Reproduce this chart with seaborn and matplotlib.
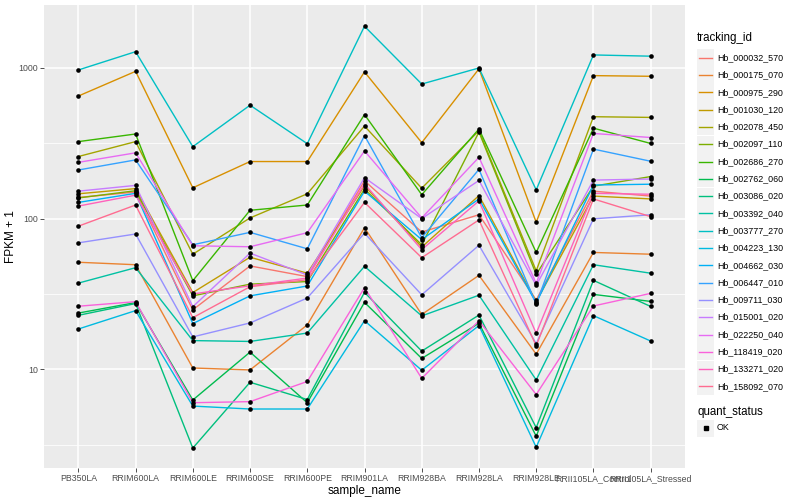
import matplotlib
matplotlib.use('Agg')
import matplotlib.pyplot as plt
from matplotlib.lines import Line2D
from matplotlib.patches import Rectangle
import seaborn as sns
import pandas as pd
import numpy as np

# 샘플 이름 (x축)
samples = ['PB350LA', 'RRIM600LA', 'RRIM600LE', 'RRIM600SE', 'RRIM600PE',
           'RRIM901LA', 'RRIM928BA', 'RRIM928LA', 'RRIM928LE',
           'RRII105LA_Control', 'RRII105LA_Stressed']

# 유전자별 FPKM + 1 값
hb_000032_570 = [138, 150, 24.8, 48.5, 41.2, 178, 81.4, 106, 28.8, 152, 141]
hb_000175_070 = [51.3, 49.4, 10.2, 9.9, 19.7, 87, 23.1, 42, 12.6, 59.6, 58]
hb_000975_290 = [650, 948, 160, 239, 239, 940, 319, 985, 94.5, 888, 879]
hb_001030_120 = [146, 158, 32.3, 55.4, 43.4, 165, 64.7, 142, 28.1, 141, 135]
hb_002078_450 = [258, 324, 58, 101, 146, 411, 159, 383, 45, 474, 469]
hb_002097_110 = [137, 153, 30.7, 36.7, 38.2, 157, 67, 375, 42.7, 164, 190]
hb_002686_270 = [324, 364, 38.7, 113.5, 123, 490, 144, 393, 59.6, 398, 315]
hb_002762_060 = [23.6, 27.7, 6.25, 13.0, 6.0, 27.8, 11.8, 20.2, 3.6, 31.4, 28.2]
hb_003086_020 = [22.8, 27.3, 3.0, 8.2, 6.3, 32.4, 13.2, 22.9, 4.1, 38.9, 26.1]
hb_003392_040 = [37.3, 47.2, 15.5, 15.3, 17.4, 48.2, 22.6, 31, 8.5, 49.4, 43.4]
hb_003777_270 = [968, 1280, 300, 565, 314, 1888, 781, 998, 155, 1218, 1195]
hb_004223_130 = [18.5, 24.5, 5.7, 5.45, 5.45, 21, 9.85, 19.5, 3.04, 22.7, 15.4]
hb_004662_030 = [128, 147, 20.1, 30.7, 35.7, 152, 72.5, 135, 27.5, 167, 169]
hb_006447_010 = [210, 245, 67, 81, 63, 355, 74.7, 212, 27.1, 289, 240]
hb_009711_030 = [69, 79, 16.4, 20.3, 29.7, 80, 31.2, 66.5, 14.8, 99.6, 106]
hb_015001_020 = [152, 166, 26, 59, 42.2, 187, 100, 179, 36, 180, 183]
hb_022250_040 = [236, 273, 66, 65, 80.6, 281, 101, 255, 37.2, 367, 345]
hb_118419_020 = [26.2, 28.1, 6.0, 6.1, 8.3, 34.8, 8.7, 21, 6.8, 26.3, 31.9]
hb_133271_020 = [121, 143, 31.6, 35.8, 40.3, 170, 62.2, 131, 17.3, 147, 145]
hb_158092_070 = [89, 123, 22, 35.3, 39.3, 128, 55, 98, 14.3, 135, 103]

genes = {
    'Hb_000032_570': hb_000032_570, 'Hb_000175_070': hb_000175_070,
    'Hb_000975_290': hb_000975_290, 'Hb_001030_120': hb_001030_120,
    'Hb_002078_450': hb_002078_450, 'Hb_002097_110': hb_002097_110,
    'Hb_002686_270': hb_002686_270, 'Hb_002762_060': hb_002762_060,
    'Hb_003086_020': hb_003086_020, 'Hb_003392_040': hb_003392_040,
    'Hb_003777_270': hb_003777_270, 'Hb_004223_130': hb_004223_130,
    'Hb_004662_030': hb_004662_030, 'Hb_006447_010': hb_006447_010,
    'Hb_009711_030': hb_009711_030, 'Hb_015001_020': hb_015001_020,
    'Hb_022250_040': hb_022250_040, 'Hb_118419_020': hb_118419_020,
    'Hb_133271_020': hb_133271_020, 'Hb_158092_070': hb_158092_070,
}

# ggplot 기본 hue 팔레트 (20개)
colors = ['#F8766D', '#EA8331', '#D89000', '#C09B00', '#A3A500', '#7CAE00',
          '#39B600', '#00BB4E', '#00BF7D', '#00C1A3', '#00BFC4', '#00BAE0',
          '#00B0F6', '#35A2FF', '#9590FF', '#C77CFF', '#E76BF3', '#FA62DB',
          '#FF62BC', '#FF6C91']

rows = []
for g, vals in genes.items():
    for s, v in zip(samples, vals):
        rows.append({'tracking_id': g, 'sample_name': s, 'fpkm': v})
df = pd.DataFrame(rows)
df['x'] = df['sample_name'].map({s: i for i, s in enumerate(samples)})

plt.rcParams['font.family'] = ['Liberation Sans', 'DejaVu Sans']

fig = plt.figure(figsize=(8, 5), dpi=100)
ax = fig.add_axes([44 / 800, 1 - 468 / 500, (685 - 44) / 800, (468 - 5) / 500])
ax.set_facecolor('#EBEBEB')

palette = dict(zip(genes.keys(), colors))
sns.lineplot(data=df, x='x', y='fpkm', hue='tracking_id', palette=palette,
             sort=False, linewidth=1.0, legend=False, ax=ax, zorder=3)
sns.scatterplot(data=df, x='x', y='fpkm', color='black', s=11,
                marker='o', linewidth=0, legend=False, ax=ax, zorder=4)

ax.set_yscale('log')
ax.set_ylim(10 ** 0.345, 10 ** 3.417)
ax.set_xlim(-0.6, len(samples) - 0.4)
ax.set_yticks([10, 100, 1000])
ax.set_yticklabels(['10', '100', '1000'])
ax.set_yticks([10 ** 0.5, 10 ** 1.5, 10 ** 2.5], minor=True)
ax.yaxis.set_minor_formatter(matplotlib.ticker.NullFormatter())
ax.set_xticks(range(len(samples)))
ax.set_xticklabels(samples)

ax.grid(which='major', color='white', linewidth=1.1, zorder=0)
ax.grid(which='minor', axis='y', color='white', linewidth=0.55, zorder=0)
ax.set_axisbelow(True)
for sp in ax.spines.values():
    sp.set_visible(False)
ax.tick_params(which='major', length=3, color='#333333', width=0.6,
               labelsize=6.3, labelcolor='#4D4D4D', pad=1.5)
ax.tick_params(which='minor', length=0)

ax.set_xlabel('sample_name', fontsize=8.5, labelpad=1)
ax.set_ylabel('FPKM + 1', fontsize=8.5)
ax.yaxis.set_label_coords(-27 / 641, 0.5)

# 범례 직접 그리기
fig.text(697 / 800, 1 - 38 / 500, 'tracking_id', fontsize=8.3, va='center', ha='left')
step = 17.3
for i, (g, c) in enumerate(zip(genes.keys(), colors)):
    yc = 57.7 + i * step
    fig.patches.append(Rectangle((697 / 800, 1 - (yc + 8.5) / 500), 17 / 800, 17 / 500,
                                 transform=fig.transFigure, facecolor='#F2F2F2',
                                 edgecolor='none'))
    fig.lines.append(Line2D([699 / 800, 712 / 800], [1 - yc / 500, 1 - yc / 500],
                            transform=fig.transFigure, color=c, linewidth=1.0))
    fig.text(717 / 800, 1 - yc / 500, g, fontsize=6.4, va='center', ha='left')

fig.text(697 / 800, 1 - 412 / 500, 'quant_status', fontsize=8.3, va='center', ha='left')
yc = 428
fig.patches.append(Rectangle((697 / 800, 1 - (yc + 8.5) / 500), 17 / 800, 17 / 500,
                             transform=fig.transFigure, facecolor='#F2F2F2',
                             edgecolor='none'))
fig.lines.append(Line2D([705.5 / 800], [1 - yc / 500], transform=fig.transFigure,
                        color='black', marker='s', markersize=2.5, linestyle='none'))
fig.text(717 / 800, 1 - yc / 500, 'OK', fontsize=6.4, va='center', ha='left')

fig.savefig('out.png', dpi=100)
